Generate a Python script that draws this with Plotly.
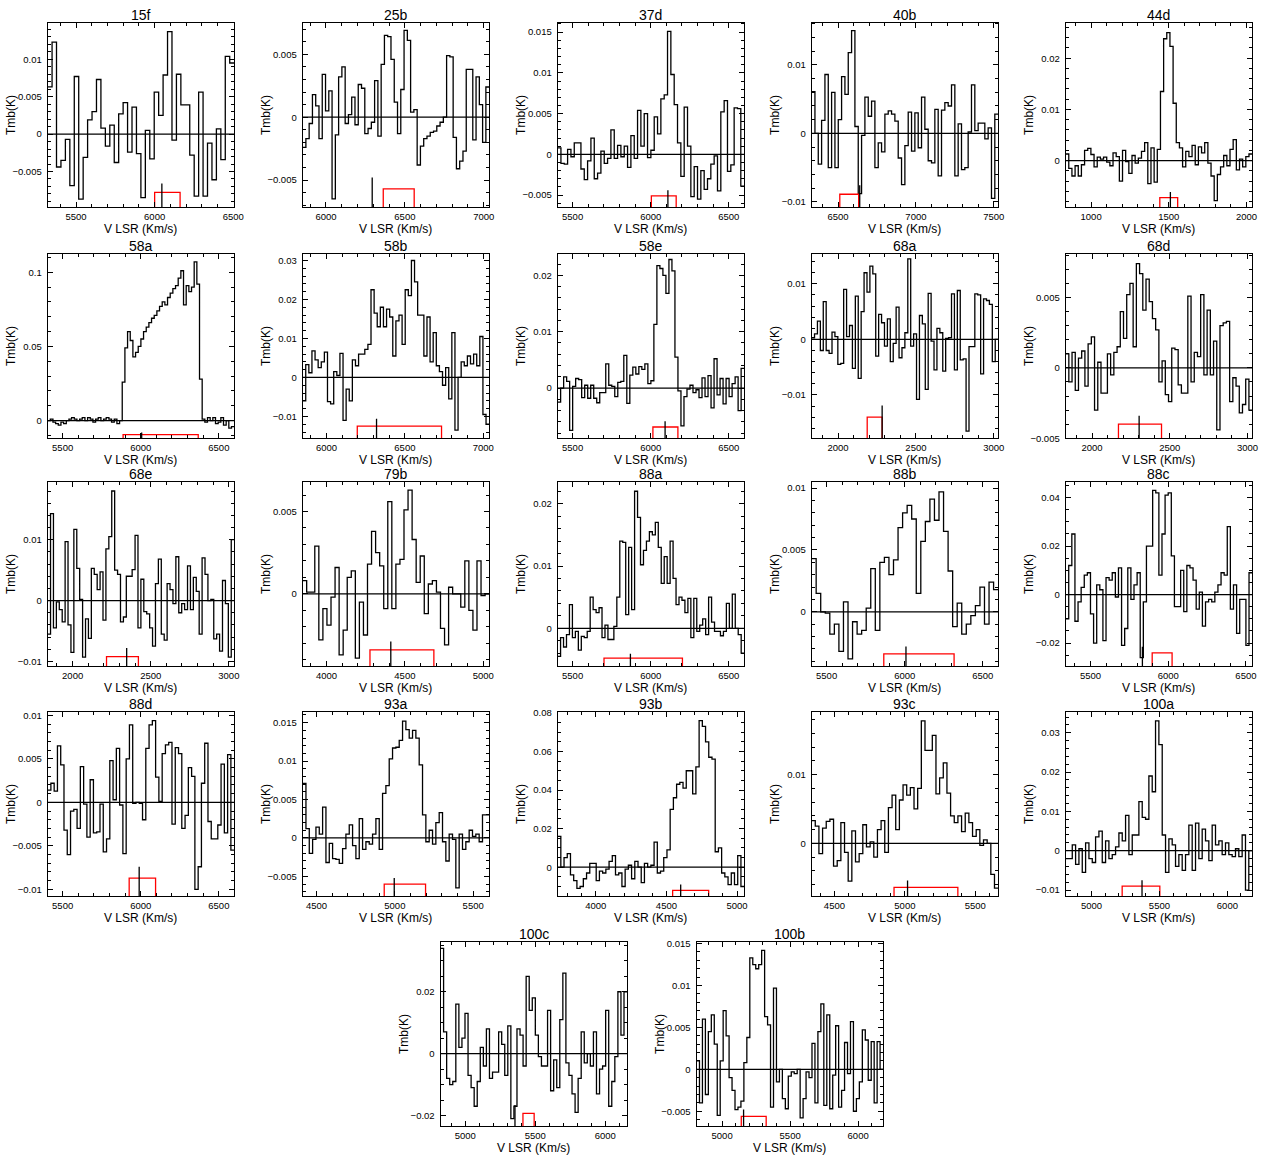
import numpy as np
import plotly.graph_objects as go

# ---------------- data (Tmb in K per channel) ----------------
T_15F = [0.0063, 0.0123, -0.0044, -0.0035, -0.0007, -0.0069, 0.0077, -0.0087, -0.0031, 0.0019,
         0.0030, 0.0073, 0.0008, -0.0016, 0.0012, -0.0038, 0.0027, 0.0042, -0.0024, 0.0036,
         -0.0026, -0.0085, 0.0005, -0.0033, 0.0056, 0.0025, 0.0079, 0.0137, -0.0008, 0.0080,
         0.0039, 0.0039, -0.0028, -0.0083, 0.0056, -0.0083, -0.0012, -0.0061, 0.0007, -0.0034,
         0.0104, 0.0095]
T_25B = [-0.0024, -0.0017, -0.0005, 0.0018, 0.0009, -0.0017, 0.0034, 0.0005, 0.0021, -0.0065,
         -0.0014, 0.0032, 0.0040, -0.0005, 0.0002, 0.0016, -0.0006, 0.0026, 0.0023, -0.0013,
         -0.0009, -0.0004, 0.0029, -0.0015, 0.0042, 0.0065, 0.0064, 0.0046, 0.0012, -0.0013,
         0.0022, 0.0069, 0.0061, 0.0004, 0.0006, -0.0038, -0.0023, -0.0017, -0.0015, -0.0012,
         -0.0011, -0.0007, -0.0004, 0.0000, 0.0049, 0.0048, -0.0016, -0.0041, -0.0035, -0.0027,
         0.0038, 0.0038, -0.0018, 0.0032, 0.0010, -0.0020, 0.0024]
T_37D = [0.0008, -0.0011, -0.0012, 0.0006, -0.0003, 0.0014, 0.0014, -0.0018, -0.0031, -0.0008,
         0.0020, -0.0030, -0.0023, 0.0004, -0.0011, -0.0005, 0.0030, -0.0005, 0.0011, -0.0003,
         0.0010, -0.0016, 0.0023, -0.0005, 0.0054, 0.0010, 0.0050, -0.0004, 0.0005, 0.0046,
         0.0025, 0.0068, 0.0073, 0.0151, 0.0098, 0.0061, 0.0014, -0.0027, 0.0058, 0.0010,
         -0.0052, -0.0015, -0.0055, -0.0020, -0.0043, -0.0030, -0.0012, -0.0002, -0.0045, 0.0052,
         0.0066, -0.0021, -0.0013, 0.0057, 0.0056, -0.0039]
T_40B = [0.0061, 0.0000, -0.0045, 0.0019, 0.0086, -0.0050, 0.0060, -0.0050, 0.0020, 0.0083,
         0.0057, 0.0118, 0.0150, 0.0010, -0.0088, -0.0003, 0.0053, 0.0025, 0.0047, -0.0050,
         -0.0014, -0.0027, 0.0028, 0.0033, 0.0028, 0.0018, -0.0036, -0.0075, -0.0018, 0.0031,
         -0.0026, 0.0030, -0.0021, 0.0053, 0.0006, -0.0040, -0.0043, 0.0035, -0.0062, 0.0034,
         0.0045, 0.0040, 0.0071, -0.0062, 0.0014, -0.0053, -0.0050, 0.0002, 0.0071, 0.0004,
         0.0015, 0.0015, -0.0008, 0.0008, -0.0095, 0.0028]
T_44D = [0.0013, -0.0015, -0.0030, -0.0010, -0.0030, -0.0008, 0.0020, 0.0024, 0.0012, -0.0012,
         0.0007, 0.0003, 0.0007, -0.0003, -0.0010, 0.0015, 0.0008, -0.0040, 0.0020, -0.0002,
         -0.0025, 0.0010, -0.0005, 0.0005, 0.0018, 0.0035, -0.0045, 0.0025, -0.0042, 0.0022,
         0.0135, 0.0238, 0.0250, 0.0223, 0.0112, 0.0035, 0.0025, -0.0012, 0.0018, 0.0008,
         0.0030, -0.0008, 0.0027, 0.0015, 0.0035, -0.0005, -0.0030, -0.0078, -0.0027, -0.0012,
         0.0010, -0.0010, 0.0022, 0.0041, -0.0018, 0.0003, -0.0012, 0.0008, 0.0013]
T_58A = [0.000, 0.001, -0.001, -0.002, -0.003, -0.001, -0.002, 0.000, 0.001, 0.002,
         0.001, 0.000, 0.001, 0.002, 0.000, 0.002, 0.001, -0.001, 0.001, 0.002,
         0.000, 0.001, 0.002, 0.001, -0.001, 0.001, -0.002, 0.000, 0.026, 0.049,
         0.060, 0.054, 0.043, 0.046, 0.050, 0.055, 0.060, 0.063, 0.066, 0.069,
         0.071, 0.074, 0.077, 0.080, 0.078, 0.083, 0.086, 0.089, 0.091, 0.096,
         0.101, 0.078, 0.091, 0.087, 0.090, 0.107, 0.092, 0.028, 0.001, -0.001,
         0.002, 0.000, 0.002, -0.002, -0.001, 0.002, -0.003, 0.000, -0.005, -0.004]
T_58B = [-0.0060, 0.0033, 0.0012, 0.0068, 0.0045, 0.0025, 0.0040, 0.0065, -0.0062, -0.0068,
         0.0015, 0.0005, 0.0062, -0.0110, -0.0030, -0.0060, 0.0045, 0.0030, 0.0060, 0.0060,
         0.0072, 0.0085, 0.0225, 0.0165, 0.0130, 0.0180, 0.0130, 0.0175, 0.0155, 0.0055,
         0.0145, 0.0160, 0.0085, 0.0225, 0.0210, 0.0300, 0.0245, 0.0160, 0.0160, 0.0055,
         0.0155, 0.0040, 0.0115, 0.0030, 0.0015, -0.0020, 0.0025, -0.0055, 0.0115, -0.0135,
         0.0000, 0.0040, 0.0030, 0.0055, 0.0035, 0.0060, 0.0030, 0.0105, -0.0095, -0.0120]
T_58E = [-0.0025, 0.0000, 0.0020, 0.0012, -0.0075, 0.0003, 0.0017, 0.0015, -0.0017, 0.0005,
         -0.0018, 0.0005, -0.0018, -0.0026, -0.0008, -0.0008, 0.0043, 0.0005, 0.0003, -0.0015,
         0.0010, 0.0012, 0.0058, -0.0027, 0.0023, 0.0037, 0.0025, 0.0038, 0.0033, 0.0043,
         0.0008, 0.0013, 0.0113, 0.0217, 0.0212, 0.0200, 0.0168, 0.0228, 0.0208, 0.0055,
         -0.0005, -0.0067, -0.0015, -0.0002, 0.0005, -0.0008, -0.0003, -0.0017, 0.0018, -0.0015,
         0.0022, -0.0035, 0.0052, -0.0012, 0.0017, -0.0028, 0.0017, -0.0015, 0.0008, 0.0020,
         -0.0040, 0.0035]
T_68A = [0.0003, 0.0010, 0.0033, -0.0020, 0.0068, -0.0020, -0.0025, 0.0013, 0.0005, -0.0045,
         -0.0043, 0.0090, 0.0005, 0.0025, -0.0052, 0.0078, -0.0070, 0.0050, 0.0120, 0.0085,
         0.0132, 0.0118, -0.0030, 0.0045, 0.0030, -0.0012, 0.0037, -0.0040, -0.0007, 0.0058,
         -0.0033, -0.0015, 0.0012, 0.0145, -0.0012, 0.0010, -0.0108, 0.0043, 0.0028, -0.0090,
         0.0083, -0.0003, -0.0055, 0.0020, 0.0012, -0.0057, 0.0002, 0.0003, 0.0082, -0.0055,
         0.0088, -0.0037, -0.0035, -0.0165, -0.0013, -0.0013, 0.0082, 0.0080, -0.0062, 0.0073,
         0.0070, 0.0063, -0.0040, 0.0000]
T_68D = [0.0010, -0.0010, 0.0011, -0.0016, 0.0007, 0.0012, -0.0013, 0.0017, 0.0022, -0.0030,
         0.0004, -0.0018, -0.0018, 0.0010, -0.0005, 0.0011, 0.0015, 0.0040, 0.0021, 0.0052,
         0.0060, 0.0015, 0.0074, 0.0067, 0.0041, 0.0063, 0.0047, 0.0035, 0.0027, -0.0010,
         0.0005, -0.0019, -0.0024, 0.0014, 0.0013, -0.0012, -0.0018, -0.0018, 0.0051, -0.0010,
         0.0011, 0.0008, 0.0052, -0.0005, 0.0041, -0.0005, 0.0019, -0.0044, 0.0030, 0.0032,
         0.0033, -0.0024, -0.0007, -0.0013, -0.0032, -0.0026, -0.0008, -0.0030]
T_68E = [-0.0055, 0.0143, -0.0045, -0.0002, -0.0015, -0.0035, 0.0097, -0.0040, -0.0085, 0.0117,
         0.0053, 0.0002, -0.0093, -0.0030, -0.0062, 0.0053, 0.0043, 0.0018, 0.0047, -0.0032,
         0.0085, 0.0105, 0.0180, 0.0050, 0.0043, -0.0035, -0.0027, 0.0040, 0.0040, 0.0051,
         0.0107, -0.0045, 0.0035, -0.0018, -0.0022, -0.0045, -0.0075, 0.0028, 0.0068, -0.0055,
         -0.0065, 0.0028, 0.0018, -0.0005, 0.0072, -0.0020, -0.0005, -0.0015, 0.0057, -0.0015,
         0.0038, 0.0015, -0.0055, 0.0070, 0.0043, 0.0000, 0.0002, -0.0063, -0.0055, -0.0083,
         0.0033, -0.0005, -0.0093, 0.0100]
T_79B = [0.0008, 0.0001, 0.0001, 0.0029, -0.0028, -0.0009, -0.0019, -0.0002, 0.0016, -0.0037,
         -0.0022, 0.0010, 0.0014, -0.0039, -0.0005, -0.0025, 0.0018, 0.0038, 0.0025, 0.0017,
         -0.0009, 0.0056, -0.0009, 0.0018, 0.0021, 0.0051, 0.0063, 0.0033, 0.0007, 0.0023,
         -0.0012, 0.0006, 0.0008, 0.0001, -0.0021, -0.0031, 0.0004, 0.0000, 0.0000, -0.0008,
         0.0020, -0.0010, -0.0022, 0.0020, -0.0001, 0.0000]
T_88A = [-0.0045, -0.0015, -0.0030, -0.0010, 0.0038, -0.0015, -0.0005, -0.0035, -0.0013, -0.0015,
         -0.0005, 0.0050, 0.0030, 0.0025, 0.0033, -0.0015, 0.0005, -0.0018, -0.0018, 0.0003,
         0.0050, 0.0140, 0.0138, 0.0022, 0.0130, 0.0030, 0.0220, 0.0178, 0.0102, 0.0125,
         0.0140, 0.0155, 0.0150, 0.0170, 0.0130, 0.0072, 0.0115, 0.0072, 0.0140, 0.0080,
         0.0038, 0.0050, 0.0045, 0.0025, 0.0048, -0.0015, 0.0048, -0.0005, 0.0005, 0.0015,
         -0.0010, 0.0050, 0.0010, -0.0005, -0.0005, -0.0012, -0.0005, 0.0040, 0.0000, 0.0055,
         0.0000, -0.0010, -0.0040]
T_88B = [0.0043, 0.0015, 0.0000, -0.0001, -0.0018, -0.0010, -0.0032, 0.0008, -0.0038, -0.0008,
         -0.0018, -0.0015, 0.0003, 0.0035, -0.0015, 0.0040, 0.0044, 0.0030, 0.0042, 0.0068,
         0.0080, 0.0086, 0.0075, 0.0015, 0.0057, 0.0073, 0.0091, 0.0074, 0.0097, 0.0065,
         0.0033, -0.0012, 0.0007, -0.0018, -0.0010, -0.0003, 0.0005, 0.0020, -0.0010, 0.0024,
         0.0018]
T_88C = [-0.010, 0.012, 0.025, -0.011, -0.003, 0.003, 0.008, 0.009, -0.008, -0.020,
         0.004, 0.002, -0.019, 0.007, 0.006, 0.009, -0.001, 0.011, -0.021, -0.014,
         0.011, -0.002, 0.004, 0.009, -0.026, -0.003, 0.020, 0.020, 0.043, 0.042,
         0.008, 0.025, 0.041, 0.042, 0.016, -0.005, -0.005, 0.010, -0.007, 0.012,
         0.011, 0.006, -0.006, 0.001, -0.013, -0.003, -0.002, -0.003, 0.001, 0.004,
         0.009, 0.008, 0.028, -0.006, 0.004, -0.016, -0.002, -0.002, -0.021, 0.009]
T_88D = [0.0014, 0.0022, 0.0013, 0.0065, 0.0043, -0.0032, -0.0060, -0.0010, -0.0008, -0.0030,
         0.0041, -0.0002, -0.0040, 0.0026, -0.0035, -0.0034, -0.0002, -0.0057, -0.0042, 0.0048,
         0.0003, 0.0062, -0.0003, -0.0059, 0.0050, 0.0089, -0.0001, 0.0000, -0.0001, -0.0020,
         0.0062, 0.0089, 0.0094, 0.0029, 0.0001, 0.0056, 0.0066, 0.0069, -0.0025, 0.0063,
         0.0056, -0.0030, -0.0015, 0.0040, 0.0030, -0.0100, -0.0074, 0.0022, 0.0068, -0.0022,
         -0.0042, -0.0042, -0.0026, 0.0044, -0.0035, 0.0055, -0.0055]
T_93A = [0.0071, 0.0012, -0.0020, -0.0002, 0.0014, 0.0005, 0.0040, -0.0032, -0.0007, -0.0027,
         -0.0028, -0.0033, -0.0014, 0.0005, 0.0017, -0.0010, -0.0027, 0.0025, -0.0015, -0.0005,
         -0.0008, 0.0005, 0.0025, -0.0015, 0.0058, 0.0068, 0.0103, 0.0117, 0.0118, 0.0127,
         0.0152, 0.0141, 0.0130, 0.0140, 0.0130, 0.0095, 0.0030, -0.0005, 0.0010, -0.0008,
         0.0020, 0.0033, -0.0005, -0.0030, 0.0005, -0.0002, -0.0065, 0.0005, -0.0015, -0.0005,
         0.0010, 0.0002, 0.0005, -0.0005, 0.0030, 0.0030]
T_93B = [0.016, 0.000, 0.005, 0.007, -0.004, -0.007, -0.011, -0.010, -0.006, -0.003,
         0.002, 0.002, -0.007, -0.002, -0.003, -0.001, 0.003, 0.006, -0.004, -0.003,
         -0.010, -0.001, 0.001, -0.006, 0.003, 0.000, -0.008, 0.002, 0.000, 0.001,
         0.013, -0.003, -0.002, 0.005, 0.009, 0.030, 0.036, 0.043, 0.044, 0.041,
         0.050, 0.050, 0.038, 0.052, 0.076, 0.073, 0.065, 0.057, 0.056, 0.008,
         0.010, -0.003, -0.005, -0.009, -0.003, -0.009, 0.006, -0.010]
T_93C = [0.0033, 0.0025, -0.0015, 0.0022, 0.0032, 0.0035, -0.0033, -0.0025, 0.0030, -0.0013,
         -0.0055, 0.0018, -0.0027, -0.0015, 0.0027, -0.0005, 0.0002, -0.0020, 0.0020, 0.0033,
         -0.0013, 0.0052, 0.0070, 0.0020, 0.0063, 0.0085, 0.0070, 0.0081, 0.0050, 0.0080,
         0.0178, 0.0135, 0.0135, 0.0157, 0.0072, 0.0095, 0.0117, 0.0073, 0.0040, 0.0030,
         0.0040, 0.0017, 0.0044, 0.0030, 0.0010, 0.0020, -0.0003, 0.0005, 0.0000, -0.0045,
         -0.0065]
T_100A = [-0.002, -0.002, 0.0015, -0.0035, 0.0005, -0.0055, 0.002, -0.002, -0.003, 0.0035,
          0.005, -0.003, 0.0025, -0.002, -0.001, 0.001, 0.0045, 0.0025, 0.009, -0.001,
          0.004, 0.004, 0.0125, 0.0085, 0.008, 0.019, 0.015, 0.033, 0.027, 0.004,
          -0.0055, 0.003, 0.0015, -0.004, -0.001, -0.005, -0.001, 0.0065, -0.005, 0.007,
          -0.002, 0.0055, 0.0025, -0.0025, 0.0065, 0.0015, 0.0025, -0.001, 0.002, -0.001,
          -0.0015, 0.0005, -0.0015, 0.004, -0.010, 0.000]
T_100C = [0.034, 0.007, -0.008, -0.010, -0.009, 0.016, 0.002, 0.005, 0.013, -0.007,
          -0.011, -0.017, -0.009, 0.002, -0.004, 0.008, -0.008, -0.006, -0.006, 0.007,
          0.003, -0.007, 0.009, -0.021, -0.017, 0.008, 0.006, -0.004, 0.025, 0.014,
          0.018, 0.006, -0.001, -0.004, -0.004, 0.014, -0.012, -0.002, -0.011, 0.011,
          0.026, -0.003, -0.007, -0.013, -0.019, -0.008, 0.007, -0.003, 0.000, -0.004,
          0.007, -0.013, -0.005, -0.004, 0.014, -0.017, -0.009, -0.001, 0.020, 0.006,
          0.020]
T_100B = [0.0010, -0.0040, 0.0060, -0.0030, 0.0045, 0.0065, 0.0030, -0.0055, 0.0010, 0.0070,
          0.0040, -0.0010, -0.0025, -0.0048, -0.0045, -0.0038, 0.0008, 0.0038, 0.0133, 0.0125,
          0.0120, 0.0125, 0.0142, 0.0063, 0.0053, -0.0045, 0.0097, -0.0015, 0.0000, -0.0035,
          -0.0047, -0.0008, -0.0003, -0.0005, 0.0000, -0.0058, -0.0035, -0.0003, -0.0010, 0.0031,
          -0.0040, 0.0045, 0.0078, -0.0043, 0.0065, -0.0047, -0.0007, 0.0052, -0.0045, -0.0025,
          0.0032, -0.0005, 0.0057, -0.0050, -0.0035, -0.0015, 0.0047, 0.0035, -0.0013, 0.0033,
          -0.0040, 0.0033, 0.0000]

NAMES = ["15f", "25b", "37d", "40b", "44d",
         "58a", "58b", "58e", "68a", "68d",
         "68e", "79b", "88a", "88b", "88c",
         "88d", "93a", "93b", "93c", "100a",
         "100c", "100b"]
SPECTRA = [T_15F, T_25B, T_37D, T_40B, T_44D, T_58A, T_58B, T_58E, T_68A, T_68D,
           T_68E, T_79B, T_88A, T_88B, T_88C, T_88D, T_93A, T_93B, T_93C, T_100A,
           T_100C, T_100B]
# velocity of first / last channel edge (km/s)
V_FIRST = [5319, 5852, 5404, 6330, 836, 5404, 5847, 5404, 1830, 1830,
           1840, 3847, 5404, 5404, 5340, 5404, 4411, 3730, 4338, 4810,
           4823, 4812]
V_LAST = [6506, 7034, 6598, 7528, 2036, 6598, 7038, 6598, 3028, 3030,
          3034, 5038, 6598, 6598, 6540, 6598, 5602, 5050, 5662, 6182,
          6156, 6183]
# Tmb axis limits
Y_MIN = [-0.00978, -0.00716, -0.0065, -0.0108, -0.0091, -0.0119, -0.0156, -0.0089, -0.0178, -0.0050,
         -0.0108, -0.0044, -0.0061, -0.0044, -0.0296, -0.0108, -0.0076, -0.0151, -0.0077, -0.0116,
         -0.0235, -0.0068]
Y_MAX = [0.01487, 0.0075, 0.01614, 0.01615, 0.0269, 0.1124, 0.0317, 0.0238, 0.0154, 0.0081,
         0.0195, 0.0068, 0.0235, 0.0105, 0.0465, 0.0104, 0.0164, 0.0805, 0.0191, 0.0353,
         0.0361, 0.0152]
Y_STEP = [0.005, 0.005, 0.005, 0.01, 0.01, 0.05, 0.01, 0.01, 0.01, 0.005,
          0.01, 0.005, 0.01, 0.005, 0.02, 0.005, 0.005, 0.02, 0.01, 0.01,
          0.02, 0.005]
# velocity window (red bracket) and systemic velocity marker
WIN_LO = [6000, 6363, 6004, 6511, 1442, 5887, 6196, 6014, 2187, 2170,
          2217, 4277, 5701, 5866, 5897, 5926, 4932, 4544, 4923, 5226,
          5412, 5141]
WIN_HI = [6162, 6559, 6163, 6632, 1557, 6368, 6734, 6174, 2283, 2447,
          2421, 4685, 6203, 6316, 6025, 6095, 5196, 4799, 5376, 5503,
          5492, 5324]
WIN_TOP = [-0.0078, -0.0057, -0.0051, -0.0089, -0.0072, -0.0094, -0.0125, -0.0069, -0.0140, -0.0040,
           -0.0092, -0.0034, -0.0048, -0.0034, -0.0241, -0.0087, -0.0060, -0.0120, -0.0064, -0.0090,
           -0.0193, -0.0056]
V_SYS = [6046, 6293, 6110, 6639, 1510, 6006, 6319, 6092, 2283, 2303,
         2346, 4410, 5870, 6008, 5834, 5990, 4996, 4601, 5019, 5372,
         5355, 5158]
SYS_TOP = [-0.0066, -0.0048, -0.0044, -0.0076, -0.0061, -0.0080, -0.0106, -0.0059, -0.0119, -0.0034,
           -0.0078, -0.0029, -0.0041, -0.0028, -0.0215, -0.0074, -0.0052, -0.0090, -0.0054, -0.0075,
           -0.0166, -0.0048]

# ---------------- layout geometry (pixels) ----------------
W, H = 1280, 1171
PW, PH = 188, 186
COL_LEFT = [48, 305, 562, 818, 1074]
ROW_TOP = [18, 251, 481, 713, 945]
POS = [(COL_LEFT[i % 5], ROW_TOP[i // 5]) for i in range(20)] + [(444, 945), (702, 945)]

FONT = "Liberation Sans, Arial, sans-serif"
fig = go.Figure()
layout = dict(width=W, height=H, margin=dict(l=0, r=0, t=0, b=0),
              paper_bgcolor="white", plot_bgcolor="white", showlegend=False,
              annotations=[])

for k, name in enumerate(NAMES):
    n = k + 1
    xa, ya = f"x{n}", f"y{n}"
    vals = SPECTRA[k]
    edges = np.linspace(V_FIRST[k], V_LAST[k], len(vals) + 1)
    yv = list(vals) + [vals[-1]]
    ymin, ymax = Y_MIN[k], Y_MAX[k]
    fig.add_trace(go.Scatter(x=edges, y=yv, mode="lines", line=dict(color="black", width=1.3, shape="hv"),
                             xaxis=xa, yaxis=ya, hoverinfo="skip"))
    fig.add_trace(go.Scatter(x=[V_FIRST[k], V_LAST[k]], y=[0, 0], mode="lines",
                             line=dict(color="black", width=1.2), xaxis=xa, yaxis=ya, hoverinfo="skip"))
    fig.add_trace(go.Scatter(x=[WIN_LO[k], WIN_LO[k], WIN_HI[k], WIN_HI[k]],
                             y=[ymin, WIN_TOP[k], WIN_TOP[k], ymin], mode="lines",
                             line=dict(color="red", width=1.3), xaxis=xa, yaxis=ya, hoverinfo="skip"))
    fig.add_trace(go.Scatter(x=[V_SYS[k], V_SYS[k]], y=[ymin, SYS_TOP[k]], mode="lines",
                             line=dict(color="black", width=1.3), xaxis=xa, yaxis=ya, hoverinfo="skip"))

    left, top = POS[k]
    x0, x1 = left / W, (left + PW) / W
    y0, y1 = 1 - (top + PH) / H, 1 - top / H
    ystep = Y_STEP[k]
    yminor = ystep / 4 if abs(ystep - 0.02) < 1e-9 else ystep / 5
    axis_common = dict(showline=True, linecolor="black", linewidth=1, mirror="allticks",
                       ticks="inside", ticklen=5, tickwidth=1, tickcolor="black",
                       showgrid=False, zeroline=False,
                       tickfont=dict(family=FONT, size=9.5, color="black"))
    layout[f"xaxis{n}"] = dict(domain=[x0, x1], anchor=ya, range=[V_FIRST[k], V_LAST[k]],
                               dtick=500, tick0=0, ticklabelstandoff=0,
                               minor=dict(dtick=100, ticks="inside", ticklen=3, tickcolor="black"),
                               **axis_common)
    layout[f"yaxis{n}"] = dict(domain=[y0, y1], anchor=xa, range=[ymin, ymax],
                               dtick=ystep, tick0=0, ticklabelstandoff=3,
                               minor=dict(dtick=yminor, ticks="inside", ticklen=3, tickcolor="black"),
                               **axis_common)
    cx = (x0 + x1) / 2
    layout["annotations"].append(dict(text=name, x=cx, y=1 - (top - 8) / H, xref="paper", yref="paper",
                                      showarrow=False, font=dict(family=FONT, size=14, color="black"),
                                      xanchor="center", yanchor="middle"))
    layout["annotations"].append(dict(text="Tmb(K)", x=(left - 37) / W, y=(y0 + y1) / 2,
                                      xref="paper", yref="paper", showarrow=False, textangle=-90,
                                      font=dict(family=FONT, size=12, color="black"),
                                      xanchor="center", yanchor="middle"))
    layout["annotations"].append(dict(text="V LSR (Km/s)", x=cx, y=1 - (top + PH + 22) / H,
                                      xref="paper", yref="paper", showarrow=False,
                                      font=dict(family=FONT, size=12, color="black"),
                                      xanchor="center", yanchor="middle"))

fig.update_layout(**layout)
fig.write_html("out.html", config={"displayModeBar": False},
               post_script="document.body.style.margin='0px';document.body.style.overflow='hidden';")
